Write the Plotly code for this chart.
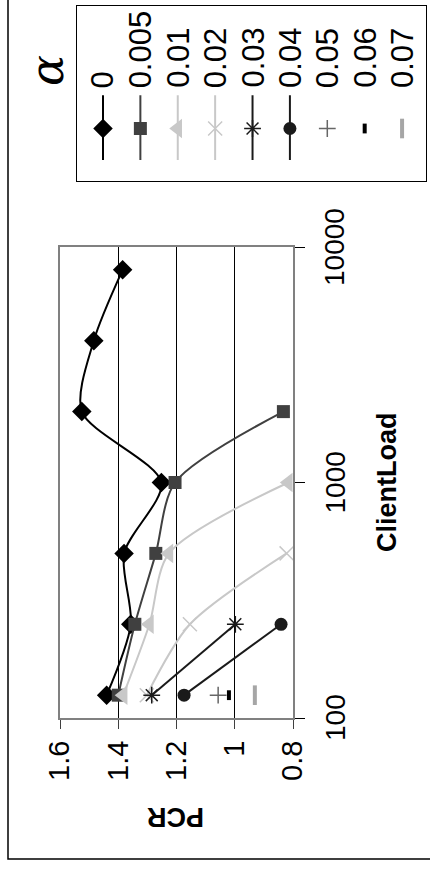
import math
import plotly.graph_objects as go

# ClientLoad levels (log axis) and PCR readings for each alpha
client_load = [125, 250, 500, 1000, 2000, 4000, 8000]
alpha_labels = ["0", "0.005", "0.01", "0.02", "0.03", "0.04", "0.05", "0.06", "0.07"]

pcr_a0000 = [1.44, 1.357, 1.38, 1.252, 1.525, 1.484, 1.385]
pcr_a0005 = [1.40, 1.343, 1.271, 1.205, 0.833]
pcr_a0010 = [1.383, 1.293, 1.226, 0.816]
pcr_a0020 = [1.302, 1.154, 0.822]
pcr_a0030 = [1.285, 0.998]
pcr_a0040 = [1.174, 0.841]
pcr_a0050 = [1.057]
pcr_a0060 = [1.020]
pcr_a0070 = [0.931]

pcr_ticks = [1.6, 1.4, 1.2, 1.0, 0.8]
pcr_tick_text = ["1.6", "1.4", "1.2", "1", "0.8"]
load_ticks = [100, 1000, 10000]
load_tick_text = ["100", "1000", "10000"]

series = [pcr_a0000, pcr_a0005, pcr_a0010, pcr_a0020, pcr_a0030,
          pcr_a0040, pcr_a0050, pcr_a0060, pcr_a0070]

# per-series style: (marker symbol, size, colour, marker line width, draw line, smooth)
styles = [
    ("diamond", 15, "#000000", 0, True, True),
    ("square", 13, "#404040", 0, True, True),
    ("triangle-left", 17, "#c8c8c8", 0, True, True),
    ("x-thin-open", 14, "#c8c8c8", 1.5, True, True),
    ("asterisk-open", 14, "#1a1a1a", 1.5, True, False),
    ("circle", 13, "#1a1a1a", 0, True, False),
    ("cross-thin-open", 12, "#666666", 1.5, False, False),
    ("line-ns-open", 7, "#000000", 4, False, False),
    ("line-ns-open", 14, "#a6a6a6", 4, False, False),
]

FONT = "Liberation Sans, Arial, sans-serif"
W, H = 430, 870

fig = go.Figure()

for vals, (sym, size, col, lw, has_line, smooth), name in zip(series, styles, alpha_labels):
    loads = client_load[:len(vals)]
    marker = dict(symbol=sym, size=size, color=col, line=dict(width=lw, color=col))
    fig.add_trace(go.Scatter(
        x=vals, y=loads, name=name,
        mode="lines+markers" if has_line else "markers",
        line=dict(color=col, width=2, shape="spline" if smooth else "linear", smoothing=0.8),
        marker=marker, showlegend=False, xaxis="x", yaxis="y",
    ))

# legend drawn as its own small panel (rotated layout)
leg_line = [0.12, 0.49]
leg_mark = 0.30
for i, ((sym, size, col, lw, has_line, smooth), name) in enumerate(zip(styles, alpha_labels)):
    if has_line:
        fig.add_trace(go.Scatter(
            x=[i, i], y=leg_line, mode="lines", line=dict(color=col, width=2),
            showlegend=False, xaxis="x2", yaxis="y2", hoverinfo="skip"))
    fig.add_trace(go.Scatter(
        x=[i], y=[leg_mark], mode="markers",
        marker=dict(symbol=sym, size=size, color=col, line=dict(width=lw, color=col)),
        showlegend=False, xaxis="x2", yaxis="y2", hoverinfo="skip"))

annotations = []
for i, name in enumerate(alpha_labels):
    annotations.append(dict(
        x=i, y=0.52, xref="x2", yref="y2", text=name, showarrow=False,
        textangle=-90, xanchor="center", yanchor="bottom",
        font=dict(family=FONT, size=31, color="#000000")))

# ClientLoad tick labels, rotated to read upwards and centred on their ticks
for t, txt in zip(load_ticks, load_tick_text):
    annotations.append(dict(
        x=335 / W, y=math.log10(t), xref="paper", yref="y", text=txt, showarrow=False,
        textangle=-90, xanchor="center", yanchor="middle",
        font=dict(family=FONT, size=28, color="#000000")))

# legend title
annotations.append(dict(
    x=47 / W, y=1 - 71 / H, xref="paper", yref="paper", text="<i>α</i>", showarrow=False,
    textangle=-90, xanchor="center", yanchor="middle",
    font=dict(family="DejaVu Serif, serif", size=46, color="#000000")))

# axis titles
annotations.append(dict(
    x=387 / W, y=1 - 482 / H, xref="paper", yref="paper", text="<b>ClientLoad</b>",
    showarrow=False, textangle=-90, xanchor="center", yanchor="middle",
    font=dict(family=FONT, size=27, color="#000000")))
annotations.append(dict(
    x=176 / W, y=1 - 817 / H, xref="paper", yref="paper", text="<b>PCR</b>",
    showarrow=False, textangle=180, xanchor="center", yanchor="middle",
    font=dict(family=FONT, size=27, color="#000000")))

shapes = [
    # outer chart frame
    dict(type="rect", xref="paper", yref="paper", x0=8 / W, x1=1.2,
         y0=1 - 859 / H, y1=1.2, line=dict(color="#000000", width=1.5), layer="below"),
]

fig.update_layout(
    width=W, height=H,
    margin=dict(l=0, r=0, t=0, b=0, autoexpand=False),
    paper_bgcolor="white", plot_bgcolor="white",
    font=dict(family=FONT, color="#000000"),
    xaxis=dict(
        domain=[60 / W, 293 / W], range=[1.6, 0.8], tickvals=pcr_ticks, ticktext=pcr_tick_text,
        tickangle=-90, ticks="outside", ticklen=9, tickcolor="#404040", tickwidth=1,
        showline=True, mirror=True, linecolor="#808080", linewidth=2,
        showgrid=True, gridcolor="#000000", gridwidth=1, zeroline=False,
        tickfont=dict(family=FONT, size=29, color="#000000"),
        anchor="y", automargin=False,
    ),
    yaxis=dict(
        domain=[1 - 718 / H, 1 - 247 / H], type="log", range=[2, 4],
        tickvals=load_ticks, showticklabels=False, side="right",
        ticks="outside", ticklen=10, tickcolor="#000000", tickwidth=1,
        showline=True, mirror=True, linecolor="#808080", linewidth=2,
        showgrid=False, zeroline=False,
        anchor="x", automargin=False,
    ),
    xaxis2=dict(
        domain=[77 / W, 426 / W], range=[-0.695, 8.64], anchor="y2",
        showgrid=False, zeroline=False, showticklabels=False, ticks="",
        showline=True, mirror=True, linecolor="#000000", linewidth=1, automargin=False,
    ),
    yaxis2=dict(
        domain=[1 - 181 / H, 1 - 6 / H], range=[0, 1], anchor="x2",
        showgrid=False, zeroline=False, showticklabels=False, ticks="",
        showline=True, mirror=True, linecolor="#000000", linewidth=1, automargin=False,
    ),
    annotations=annotations,
    shapes=shapes,
    showlegend=False,
)

fig.write_html("out.html")
